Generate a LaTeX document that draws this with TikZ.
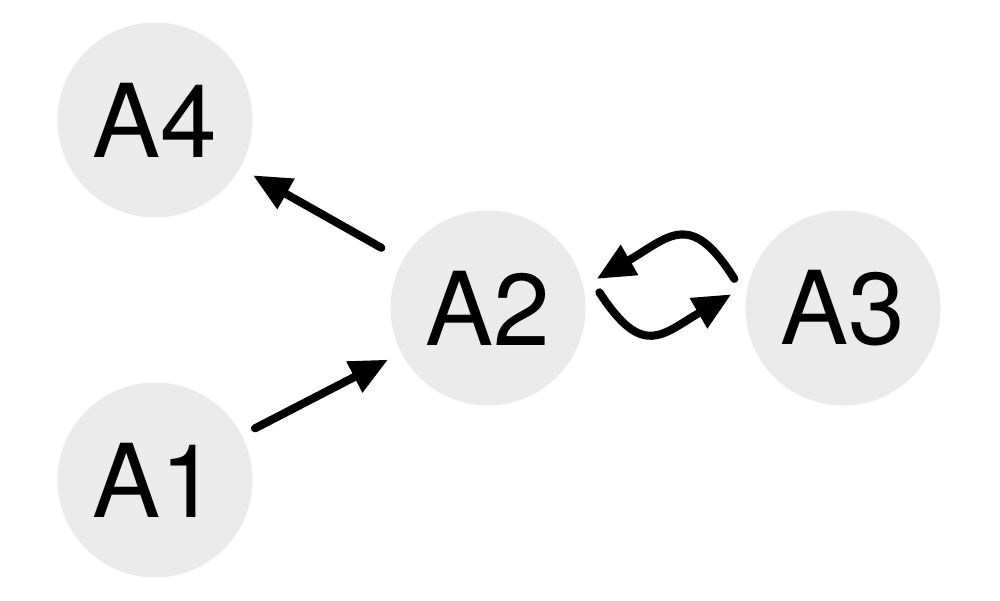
\documentclass[tikz,border=0pt]{standalone}
\usepackage{fontspec}
\setmainfont{TeX Gyre Heros}
\usepackage{tikz}
\usetikzlibrary{positioning,arrows.meta}

\definecolor{agentgray}{HTML}{EBEBEB}

\begin{document}
\begin{tikzpicture}[
    agent/.style={circle, fill=agentgray, minimum size=1.95cm, inner sep=0pt,
                  outer sep=0.15cm, font=\fontsize{29}{31}\selectfont},
    link/.style={-{Triangle[length=3.8mm, width=3.3mm]}, line width=2.3pt, line cap=round},
]

\useasboundingbox (0,0) rectangle (10,6);

% agents
\node[agent] (a4) at (1.55,4.80) {A4};
\node[agent] (a2) at (4.88,2.92) {A2};
\node[agent] (a3) at (8.43,2.92) {A3};
\node[agent] (a1) at (1.55,1.20) {A1};

% straight links
\draw[link, shorten <=0.1cm] (a2) -- (a4);
\draw[link] (a1) -- (a2);

% loop between A2 and A3
\draw[link] (a3.165) to[out=122, in=30, looseness=1.55] (a2.15);
\draw[link] (a2.8) to[out=-57, in=-150, looseness=1.55] (a3.173);

\end{tikzpicture}
\end{document}
